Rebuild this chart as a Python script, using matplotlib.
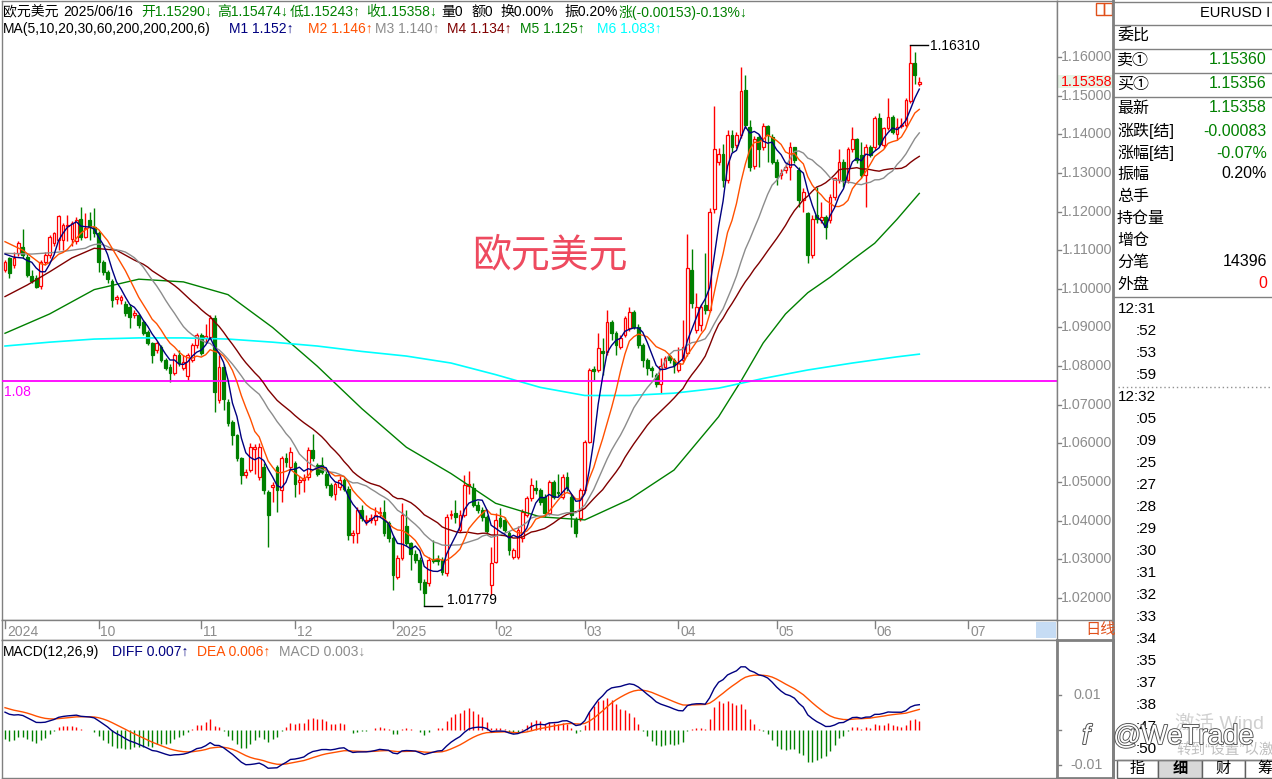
import matplotlib
matplotlib.use("Agg")
import matplotlib.pyplot as plt
import matplotlib.patheffects as pe
from matplotlib.lines import Line2D
from matplotlib.patches import Rectangle
import numpy as np
import pandas as pd

W, H = 1272, 779
plt.rcParams["font.family"] = ["Liberation Sans", "Noto Sans CJK SC", "DejaVu Sans"]

RED = "#ff0000"
GREEN = "#008000"
NAVY = "#000080"
ORANGE = "#ff5000"
GRAY = "#8c8c8c"
DARKRED = "#800000"
CYAN = "#00ffff"
MAGENTA = "#ff00ff"
FRAME = "#808080"

# daily candles EURUSD, 2024-09-02 .. 2025-06-16 (one per business day)
opens = [
    1.1049, 1.1079, 1.1062, 1.1092, 1.1107, 1.1083, 1.1033, 1.1027, 1.1007, 1.1070,
    1.1088, 1.1118, 1.1127, 1.1127, 1.1163, 1.1130, 1.1125, 1.1180, 1.1135, 1.1178,
    1.1161, 1.1144, 1.1070, 1.1044, 1.1020, 1.0974, 1.0972, 1.0962, 1.0954, 1.0932,
    1.0932, 1.0915, 1.0889, 1.0859, 1.0842, 1.0850, 1.0816, 1.0799, 1.0781, 1.0829,
    1.0794, 1.0775, 1.0816, 1.0854, 1.0880, 1.0873, 1.0876, 1.0924, 1.0712, 1.0798,
    1.0708, 1.0656, 1.0621, 1.0561, 1.0518, 1.0531, 1.0585, 1.0514, 1.0540, 1.0475,
    1.0488, 1.0540, 1.0479, 1.0561, 1.0540, 1.0548, 1.0501, 1.0505, 1.0514, 1.0583,
    1.0544, 1.0544, 1.0522, 1.0492, 1.0470, 1.0488, 1.0505, 1.0483, 1.0363, 1.0367,
    1.0427, 1.0398, 1.0403, 1.0401, 1.0420, 1.0423, 1.0393, 1.0354, 1.0255, 1.0303,
    1.0385, 1.0341, 1.0315, 1.0298, 1.0242, 1.0238, 1.0300, 1.0300, 1.0298, 1.0264,
    1.0414, 1.0419, 1.0376, 1.0415, 1.0490, 1.0484, 1.0441, 1.0428, 1.0410, 1.0233,
    1.0294, 1.0406, 1.0402, 1.0367, 1.0307, 1.0307, 1.0354, 1.0415, 1.0458, 1.0484,
    1.0479, 1.0462, 1.0419, 1.0501, 1.0475, 1.0462, 1.0514, 1.0462, 1.0402, 1.0406,
    1.0479, 1.0604, 1.0792, 1.0790, 1.0838, 1.0837, 1.0915, 1.0885, 1.0850, 1.0881,
    1.0898, 1.0941, 1.0902, 1.0855, 1.0816, 1.0794, 1.0777, 1.0755, 1.0799, 1.0825,
    1.0816, 1.0790, 1.0816, 1.0835, 1.1048, 1.0894, 1.0906, 1.0958, 1.0945, 1.1207,
    1.1329, 1.1348, 1.1281, 1.1398, 1.1372, 1.1398, 1.1514, 1.1419, 1.1318, 1.1394,
    1.1366, 1.1421, 1.1394, 1.1329, 1.1294, 1.1307, 1.1316, 1.1366, 1.1307, 1.1230,
    1.1195, 1.1087, 1.1190, 1.1178, 1.1186, 1.1178, 1.1238, 1.1281, 1.1329, 1.1281,
    1.1363, 1.1387, 1.1346, 1.1294, 1.1366, 1.1366, 1.1441, 1.1372, 1.1415, 1.1445,
    1.1402, 1.1422, 1.1424, 1.1487, 1.1584, 1.15290,
]
highs = [
    1.1075, 1.1083, 1.1095, 1.1125, 1.1154, 1.1090, 1.1049, 1.1037, 1.1075, 1.1095,
    1.1140, 1.1148, 1.1191, 1.1170, 1.1192, 1.1175, 1.1185, 1.1213, 1.1196, 1.1200,
    1.1208, 1.1150, 1.1075, 1.1050, 1.1025, 1.0985, 1.0985, 1.0968, 1.0960, 1.0945,
    1.0935, 1.0920, 1.0893, 1.0862, 1.0865, 1.0855, 1.0820, 1.0805, 1.0835, 1.0842,
    1.0830, 1.0835, 1.0860, 1.0886, 1.0885, 1.0910, 1.0932, 1.0932, 1.0829, 1.0805,
    1.0715, 1.0660, 1.0625, 1.0565, 1.0535, 1.0600, 1.0599, 1.0600, 1.0548, 1.0480,
    1.0500, 1.0545, 1.0568, 1.0575, 1.0591, 1.0555, 1.0515, 1.0520, 1.0590, 1.0625,
    1.0550, 1.0565, 1.0528, 1.0498, 1.0500, 1.0515, 1.0510, 1.0490, 1.0375, 1.0435,
    1.0440, 1.0415, 1.0418, 1.0435, 1.0436, 1.0454, 1.0400, 1.0360, 1.0310, 1.0445,
    1.0428, 1.0345, 1.0324, 1.0305, 1.0250, 1.0305, 1.0350, 1.0310, 1.0305, 1.0418,
    1.0428, 1.0454, 1.0428, 1.0518, 1.0529, 1.0497, 1.0450, 1.0435, 1.0415, 1.0333,
    1.0419, 1.0432, 1.0410, 1.0372, 1.0330, 1.0385, 1.0430, 1.0465, 1.0510, 1.0505,
    1.0485, 1.0470, 1.0505, 1.0505, 1.0522, 1.0520, 1.0525, 1.0470, 1.0410, 1.0485,
    1.0610, 1.0794, 1.0800, 1.0885, 1.0872, 1.0945, 1.0920, 1.0890, 1.0880, 1.0930,
    1.0954, 1.0945, 1.0908, 1.0860, 1.0822, 1.0800, 1.0782, 1.0820, 1.0826, 1.0830,
    1.0822, 1.0850, 1.0919, 1.1143, 1.1104, 1.0990, 1.0960, 1.1092, 1.1210, 1.1473,
    1.1365, 1.1376, 1.1411, 1.1411, 1.1406, 1.1575, 1.1553, 1.1437, 1.1395, 1.1400,
    1.1428, 1.1425, 1.1400, 1.1335, 1.1310, 1.1325, 1.1381, 1.1368, 1.1315, 1.1260,
    1.1200, 1.1190, 1.1264, 1.1225, 1.1190, 1.1245, 1.1290, 1.1363, 1.1335, 1.1368,
    1.1419, 1.1390, 1.1381, 1.1375, 1.1372, 1.1448, 1.1454, 1.1420, 1.1493, 1.1450,
    1.1441, 1.1441, 1.1495, 1.1631, 1.1612, 1.15474,
]
lows = [
    1.1044, 1.1027, 1.1055, 1.1085, 1.1080, 1.1030, 1.1014, 1.1001, 1.1000, 1.1062,
    1.1080, 1.1110, 1.1100, 1.1100, 1.1125, 1.1110, 1.1115, 1.1127, 1.1131, 1.1127,
    1.1135, 1.1044, 1.1035, 1.1015, 1.0954, 1.0960, 1.0962, 1.0930, 1.0898, 1.0925,
    1.0898, 1.0880, 1.0855, 1.0807, 1.0835, 1.0810, 1.0790, 1.0760, 1.0778, 1.0800,
    1.0790, 1.0765, 1.0810, 1.0848, 1.0828, 1.0860, 1.0870, 1.0682, 1.0705, 1.0686,
    1.0645, 1.0596, 1.0555, 1.0496, 1.0510, 1.0525, 1.0522, 1.0505, 1.0470, 1.0332,
    1.0449, 1.0423, 1.0449, 1.0540, 1.0535, 1.0462, 1.0470, 1.0475, 1.0505, 1.0555,
    1.0515, 1.0520, 1.0485, 1.0460, 1.0453, 1.0480, 1.0478, 1.0350, 1.0343, 1.0341,
    1.0400, 1.0390, 1.0395, 1.0390, 1.0410, 1.0360, 1.0345, 1.0221, 1.0250, 1.0298,
    1.0335, 1.0272, 1.0290, 1.0221, 1.01779, 1.0230, 1.0290, 1.0285, 1.0260, 1.0258,
    1.0405, 1.0393, 1.0370, 1.0410, 1.0470, 1.0435, 1.0420, 1.0400, 1.0365, 1.0208,
    1.0290, 1.0380, 1.0370, 1.0310, 1.0300, 1.0300, 1.0345, 1.0410, 1.0450, 1.0470,
    1.0440, 1.0410, 1.0415, 1.0455, 1.0465, 1.0455, 1.0478, 1.0384, 1.0358, 1.0400,
    1.0475, 1.0600, 1.0765, 1.0785, 1.0777, 1.0830, 1.0868, 1.0829, 1.0845, 1.0875,
    1.0890, 1.0895, 1.0848, 1.0799, 1.0777, 1.0773, 1.0747, 1.0730, 1.0795, 1.0807,
    1.0781, 1.0785, 1.0810, 1.0825, 1.0950, 1.0885, 1.0890, 1.0935, 1.0940, 1.1195,
    1.1320, 1.1264, 1.1275, 1.1355, 1.1365, 1.1390, 1.1415, 1.1305, 1.1310, 1.1316,
    1.1360, 1.1329, 1.1322, 1.1268, 1.1285, 1.1300, 1.1281, 1.1325, 1.1212, 1.1199,
    1.1066, 1.1080, 1.1170, 1.1170, 1.1130, 1.1170, 1.1230, 1.1275, 1.1264, 1.1275,
    1.1355, 1.1325, 1.1288, 1.1212, 1.1340, 1.1360, 1.1370, 1.1365, 1.1410, 1.1400,
    1.1385, 1.1415, 1.1418, 1.1480, 1.1530, 1.15243,
]
closes = [
    1.1070, 1.1042, 1.1081, 1.1118, 1.1088, 1.1036, 1.1021, 1.1006, 1.1070, 1.1088,
    1.1133, 1.1144, 1.1189, 1.1165, 1.1166, 1.1170, 1.1178, 1.1133, 1.1157, 1.1161,
    1.1144, 1.1070, 1.1044, 1.1025, 1.0971, 1.0980, 1.0980, 1.0937, 1.0928, 1.0937,
    1.0906, 1.0885, 1.0859, 1.0829, 1.0859, 1.0816, 1.0794, 1.0781, 1.0829, 1.0807,
    1.0811, 1.0829, 1.0854, 1.0880, 1.0833, 1.0877, 1.0924, 1.0734, 1.0798, 1.0716,
    1.0652, 1.0621, 1.0561, 1.0518, 1.0527, 1.0591, 1.0591, 1.0591, 1.0479, 1.0414,
    1.0492, 1.0479, 1.0561, 1.0552, 1.0578, 1.0496, 1.0505, 1.0510, 1.0583, 1.0561,
    1.0522, 1.0527, 1.0492, 1.0466, 1.0496, 1.0505, 1.0483, 1.0363, 1.0367, 1.0427,
    1.0406, 1.0401, 1.0406, 1.0414, 1.0423, 1.0367, 1.0354, 1.0259, 1.0303, 1.0415,
    1.0341, 1.0315, 1.0298, 1.0242, 1.0212, 1.0298, 1.0296, 1.0295, 1.0268, 1.0410,
    1.0416, 1.0410, 1.0415, 1.0492, 1.0494, 1.0441, 1.0428, 1.0410, 1.0372, 1.0290,
    1.0402, 1.0385, 1.0376, 1.0324, 1.0324, 1.0376, 1.0423, 1.0458, 1.0492, 1.0479,
    1.0449, 1.0419, 1.0501, 1.0462, 1.0471, 1.0514, 1.0484, 1.0415, 1.0367, 1.0479,
    1.0604, 1.0790, 1.0788, 1.0846, 1.0833, 1.0915, 1.0885, 1.0855, 1.0872, 1.0924,
    1.0941, 1.0902, 1.0855, 1.0816, 1.0794, 1.0790, 1.0755, 1.0800, 1.0820, 1.0816,
    1.0803, 1.0807, 1.0850, 1.1053, 1.0963, 1.0954, 1.0954, 1.0945, 1.1199, 1.1361,
    1.1348, 1.1281, 1.1398, 1.1366, 1.1398, 1.1512, 1.1424, 1.1316, 1.1387, 1.1363,
    1.1421, 1.1398, 1.1329, 1.1290, 1.1299, 1.1316, 1.1368, 1.1333, 1.1230, 1.1251,
    1.1087, 1.1182, 1.1180, 1.1186, 1.1160, 1.1238, 1.1286, 1.1329, 1.1281, 1.1361,
    1.1387, 1.1333, 1.1294, 1.1368, 1.1346, 1.1441, 1.1376, 1.1415, 1.1444, 1.1406,
    1.1419, 1.1424, 1.1488, 1.1584, 1.1553, 1.15358,
]

# start of the short moving averages (before enough candles exist)
ma5_head_idx, ma5_head = [0, 2], [1.1090, 1.1082]
ma10_head_idx, ma10_head = [0, 4, 8], [1.1122, 1.1100, 1.1065]
ma20_head_idx, ma20_head = [0, 6, 12, 18], [1.1092, 1.1090, 1.1095, 1.1105]
ma30_head_idx, ma30_head = [0, 5, 10, 15, 20, 25], [1.0980, 1.1010, 1.1044, 1.1080, 1.1105, 1.1100]

# long averages
ma60_idx = [0, 10, 20, 30, 40, 50, 60, 70, 80, 90, 100, 110, 120, 130, 140, 150,
            160, 165, 170, 175, 180, 185, 190, 195, 200, 205]
ma60 = [1.0885, 1.0935, 1.0998, 1.1025, 1.1018, 1.0985, 1.0900, 1.0800, 1.0690, 1.0590,
        1.0522, 1.0445, 1.0410, 1.0402, 1.0455, 1.0531, 1.0669, 1.0761, 1.0860, 1.0935,
        1.0990, 1.1030, 1.1075, 1.1118, 1.1180, 1.1247]
ma200_idx = [0, 10, 20, 30, 40, 50, 60, 70, 80, 90, 100, 110, 120, 130, 140, 150,
             160, 170, 180, 190, 200, 205]
ma200 = [1.0852, 1.0862, 1.0870, 1.0873, 1.0873, 1.0870, 1.0862, 1.0852, 1.0838, 1.0826,
         1.0808, 1.0778, 1.0745, 1.0724, 1.0724, 1.0730, 1.0743, 1.0768, 1.0790, 1.0808,
         1.0824, 1.0831]

MACD_DIFF_START = 0.0055
MACD_DEA_START = 0.0067

REF_LINE = 1.0761
HIGH_MARK = (203, 1.16310)
LOW_MARK = (94, 1.01779)

header1 = [
    (3, "欧元美元", "black"), (63, "2025/06/16", "black"),
    (141, "开1.15290↓", GREEN), (217, "高1.15474↓", GREEN),
    (290, "低1.15243↑", GREEN), (366, "收1.15358↓", GREEN),
    (441, "量0", "black"), (471, "额0", "black"), (500, "换0.00%", "black"),
    (564, "振0.20%", "black"), (619, "涨(-0.00153)-0.13%↓", GREEN),
]
header2 = [
    (3, "MA(5,10,20,30,60,200,200,200,6)", "black"),
    (229, "M1 1.152↑", NAVY), (308, "M2 1.146↑", ORANGE), (375, "M3 1.140↑", GRAY),
    (447, "M4 1.134↑", DARKRED), (520, "M5 1.125↑", GREEN), (597, "M6 1.083↑", CYAN),
]
macd_header = [
    (3, "MACD(12,26,9)", "black"), (112, "DIFF 0.007↑", NAVY),
    (197, "DEA 0.006↑", ORANGE), (279, "MACD 0.003↓", GRAY),
]
quote_rows = [
    ("卖①", "1.15360", GREEN, 60), ("买①", "1.15356", GREEN, 84),
    ("最新", "1.15358", GREEN, 108), ("涨跌[结]", "-0.00083", GREEN, 131),
    ("涨幅[结]", "-0.07%", GREEN, 153), ("振幅", "0.20%", "black", 174),
    ("总手", "", "black", 196), ("持仓量", "", "black", 218), ("增仓", "", "black", 240),
    ("分笔", "14396", "black", 262), ("外盘", "0", RED, 284),
]
tick_times = ["12:31", ":52", ":53", ":59", "12:32", ":05", ":09", ":25", ":27", ":28",
              ":29", ":30", ":31", ":32", ":33", ":34", ":35", ":37", ":38", ":47", ":50"]
price_labels = [f"{v / 100:.5f}" for v in range(102, 117)]

# pixel geometry of the screenshot
X0, STEP = 5.0, 4.46          # x pixel of candle 0, px per candle
P_REF, Y_REF, PX_PER = 1.16, 57.0, 3864.0
M_ZERO_Y, M_PX = 730.0, 3500.0


def price_at(y):
    return P_REF - (y - Y_REF) / PX_PER


def idx_at(x):
    return (x - X0) / STEP


def frac(x0, y0, x1, y1):
    return [x0 / W, 1 - y1 / H, (x1 - x0) / W, (y1 - y0) / H]


fig = plt.figure(figsize=(W / 100, H / 100), dpi=100)
fig.patch.set_facecolor("white")


def ftext(x, y, s, color="black", size=10, ha="left", **kw):
    return fig.text(x / W, 1 - y / H, s, color=color, fontsize=size, ha=ha, va="center", **kw)


def fline(xs, ys, color=FRAME, lw=1.0, **kw):
    fig.add_artist(Line2D([v / W for v in xs], [1 - v / H for v in ys],
                          transform=fig.transFigure, color=color, lw=lw, **kw))


def plain(ax):
    ax.set_xticks([])
    ax.set_yticks([])
    for s in ax.spines.values():
        s.set_color(FRAME)
        s.set_linewidth(1.0)


n = len(closes)
idx = np.arange(n)
o, h, l, c = (np.array(v) for v in (opens, highs, lows, closes))
up = c >= o

# ---------------- main price panel ----------------
ax = fig.add_axes(frac(2, 1, 1057, 620))
plain(ax)
ax.set_xlim(idx_at(2), idx_at(1057))
ax.set_ylim(price_at(620), price_at(1))

ax.vlines(idx, l, h, colors=np.where(up, RED, GREEN), lw=1.0, zorder=2)
body_lo = np.minimum(o, c)
body_h = np.maximum(np.abs(c - o), 0.00004)
ax.bar(idx[up], body_h[up], bottom=body_lo[up], width=0.62, facecolor="white",
       edgecolor=RED, lw=0.9, zorder=3)
ax.bar(idx[~up], body_h[~up], bottom=body_lo[~up], width=0.62, facecolor=GREEN,
       edgecolor=GREEN, lw=0.9, zorder=3)

close_s = pd.Series(closes)


def ma_line(period, head_idx, head_val):
    rolled = close_s.rolling(period).mean()
    xs = list(head_idx) + list(range(period - 1, n))
    ys = list(head_val) + list(rolled.iloc[period - 1:])
    return xs, ys


for period, hi, hv, col in [(30, ma30_head_idx, ma30_head, DARKRED),
                            (20, ma20_head_idx, ma20_head, GRAY),
                            (10, ma10_head_idx, ma10_head, ORANGE),
                            (5, ma5_head_idx, ma5_head, NAVY)]:
    xs, ys = ma_line(period, hi, hv)
    ax.plot(xs, ys, color=col, lw=1.0, zorder=5)
ax.plot(ma60_idx, ma60, color=GREEN, lw=1.0, zorder=4)
ax.plot(ma200_idx, ma200, color=CYAN, lw=1.2, zorder=4)

ax.axhline(REF_LINE, color=MAGENTA, lw=1.3, zorder=4)
ax.plot([HIGH_MARK[0], HIGH_MARK[0] + 4], [HIGH_MARK[1]] * 2, color="black", lw=1.0, zorder=6)
ax.plot([LOW_MARK[0], LOW_MARK[0] + 4], [LOW_MARK[1]] * 2, color="black", lw=1.0, zorder=6)
ftext(930, 46, "1.16310", size=10)
ftext(447, 600, "1.01779", size=10)
ftext(4, 392, "1.08", color=MAGENTA, size=10)
ftext(550, 255, "欧元美元", color="#ee4a5f", size=28, ha="center",
      family=["Noto Sans CJK SC"])

for x, s, col in header1:
    ftext(x, 12, s, color=col, size=10)
for x, s, col in header2:
    ftext(x, 29, s, color=col, size=10)

# ---------------- date strip ----------------
axd = fig.add_axes(frac(2, 620, 1057, 640))
plain(axd)
axd.set_xlim(idx_at(2), idx_at(1057))
axd.set_ylim(0, 1)
axis_days = pd.bdate_range("2024-09-02", "2025-07-31")
prev = None
for i, d in enumerate(axis_days):
    if d.month != prev:
        label = str(d.year) if (i == 0 or d.month == 1) else f"{d.month:02d}"
        axd.plot([i, i], [1, 0.62], color=FRAME, lw=1.0)
        axd.text(i + 0.4, 0.42, label, color=GRAY, fontsize=10, va="center", ha="left")
    prev = d.month
fig.add_artist(Rectangle((1036 / W, 1 - 638 / H), 20 / W, 16 / H, transform=fig.transFigure,
                         facecolor="#c6dcf4", edgecolor="none"))

# ---------------- MACD panel ----------------
axm = fig.add_axes(frac(2, 640, 1057, 778))
plain(axm)
axm.set_xlim(idx_at(2), idx_at(1057))
axm.set_ylim((M_ZERO_Y - 778) / M_PX, (M_ZERO_Y - 640) / M_PX)

ema12, ema26, dea = closes[0], closes[0] - MACD_DIFF_START, MACD_DEA_START
diff_v, dea_v = [], []
for price in closes:
    ema12 = ema12 * 11 / 13 + price * 2 / 13
    ema26 = ema26 * 25 / 27 + price * 2 / 27
    d = ema12 - ema26
    dea = dea * 0.8 + d * 0.2
    diff_v.append(d)
    dea_v.append(dea)
diff_v, dea_v = np.array(diff_v), np.array(dea_v)
hist = 2 * (diff_v - dea_v)
axm.vlines(idx, 0, hist, colors=np.where(hist >= 0, RED, GREEN), lw=1.0)
axm.plot(idx, dea_v, color=ORANGE, lw=1.0)
axm.plot(idx, diff_v, color=NAVY, lw=1.0)
for x, s, col in macd_header:
    ftext(x, 652, s, color=col, size=10)

# ---------------- price scale strip ----------------
axs = fig.add_axes(frac(1057, 1, 1113, 620))
plain(axs)
axs.set_xlim(0, 56)
axs.set_ylim(price_at(620), price_at(1))
for lab in price_labels:
    p = float(lab)
    axs.plot([0, 4], [p, p], color=FRAME, lw=1.0)
    axs.text(55, p, lab, color=GRAY, fontsize=10.3, ha="right", va="center")
axs.add_patch(Rectangle((1, price_at(88)), 55, price_at(75) - price_at(88),
                        facecolor="#e6f4e6", edgecolor="none"))
axs.text(55, closes[-1], "1.15358", color=RED, fontsize=10.3, ha="right", va="center")
for x0 in (1096, 1104):
    fig.add_artist(Rectangle((x0 / W, 1 - 15 / H), 8 / W, 12 / H, transform=fig.transFigure,
                             facecolor="none", edgecolor="#e0501a", lw=1.0))

axms = fig.add_axes(frac(1057, 640, 1113, 778))
plain(axms)
for s in axms.spines.values():
    s.set_linewidth(2.0)
axms.set_xlim(0, 56)
axms.set_ylim((M_ZERO_Y - 778) / M_PX, (M_ZERO_Y - 640) / M_PX)
for v in (0.01, 0.0, -0.01):
    axms.plot([0, 4], [v, v], color=FRAME, lw=1.0)
axms.text(30, 0.01, "0.01", color=GRAY, fontsize=10.3, ha="center", va="center")
axms.text(30, -0.01, "-0.01", color=GRAY, fontsize=10.3, ha="center", va="center")
ftext(1085, 630, "日线", color="#e0501a", size=11)

# ---------------- quote panel ----------------
fline([1113, 1113], [0, 779], lw=2.0)
fline([1113, 1272], [1.5, 1.5])
for y in (25, 49, 73, 97, 297, 760):
    fline([1113, 1272], [y, y])
ftext(1200, 13, "EURUSD I", size=10.5)
ftext(1117, 36, "委比", size=11.5)
for lab, val, col, y in quote_rows:
    ftext(1117, y, lab, size=11.5)
    if val:
        ftext(1267, y, val, color=col, size=11.5, ha="right")
for k, t in enumerate(tick_times):
    y = 309 + 22 * k
    ftext(1118 if ":" != t[0] else 1136, y, t, size=11)
fline([1118, 1272], [387, 387], color="#909090", lw=1.0, ls=(0, (1, 2)))

# bottom tabs
for x0, x1, lab, sel in [(1117, 1158, "指", False), (1158, 1202, "细", True),
                         (1202, 1245, "财", False), (1245, 1285, "筹", False)]:
    fig.add_artist(Rectangle((x0 / W, 1 - 778 / H), (x1 - x0) / W, 18 / H,
                             transform=fig.transFigure, facecolor="#d8d8d8" if sel else "white",
                             edgecolor="#606060", lw=1.0))
    ftext((x0 + x1) / 2, 769, lab, size=11, ha="center", fontweight="bold" if sel else "normal")

# watermark overlay
ftext(1175, 724, "激活 Wind", color="#d0d0d0", size=14)
ftext(1176, 750, "转到“设置”以激", color="#c0c0c0", size=10.5)
ftext(1113, 737, "@WeTrade", color="white", size=20,
      path_effects=[pe.withStroke(linewidth=1.3, foreground="#505050")])
ftext(1086, 737, "f", color="white", size=20, ha="center", style="italic",
      path_effects=[pe.withStroke(linewidth=1.4, foreground="#505050")])

fig.savefig("out.png", dpi=100)
